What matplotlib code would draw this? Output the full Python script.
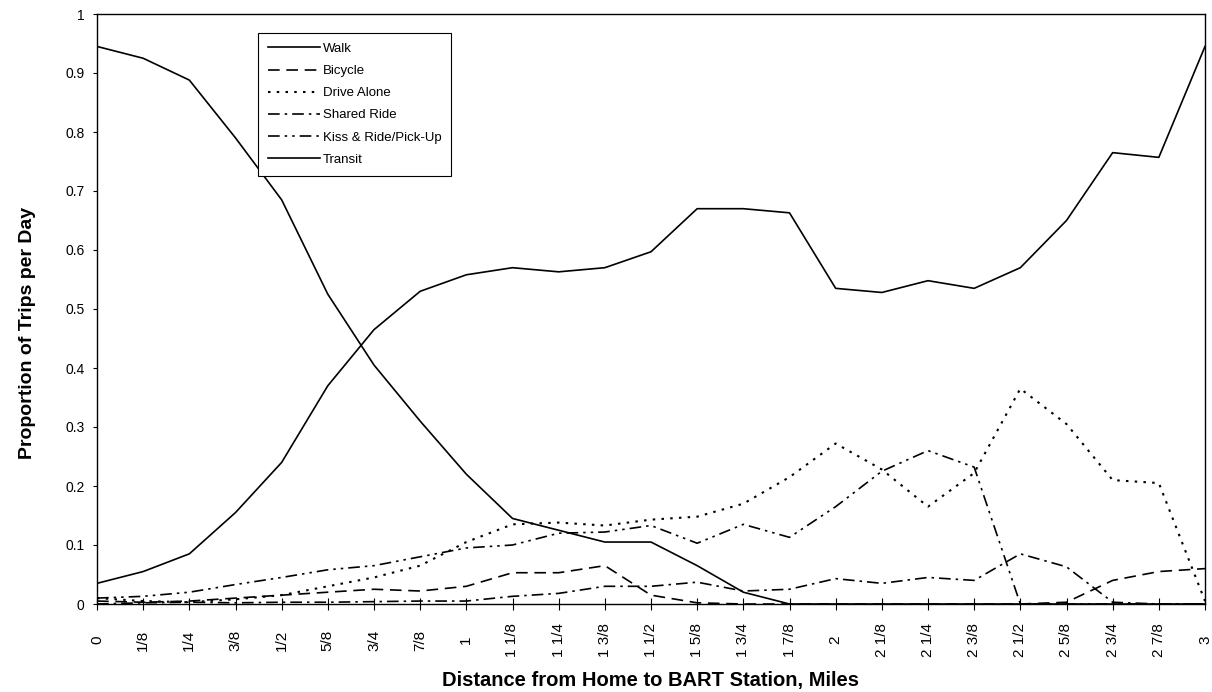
import numpy as np
import matplotlib
matplotlib.use("Agg")
import matplotlib.pyplot as plt

plt.rcParams['font.family'] = ['Liberation Sans', 'DejaVu Sans']

# distance categories (miles), 1/8 mile steps
dist_labels = ['0', '1/8', '1/4', '3/8', '1/2', '5/8', '3/4', '7/8',
               '1', '1 1/8', '1 1/4', '1 3/8', '1 1/2', '1 5/8', '1 3/4', '1 7/8',
               '2', '2 1/8', '2 1/4', '2 3/8', '2 1/2', '2 5/8', '2 3/4', '2 7/8', '3']

# proportion of trips per day for each mode
walk = [0.945, 0.925, 0.888, 0.79, 0.685, 0.525, 0.405, 0.31, 0.22, 0.145, 0.125, 0.105,
        0.105, 0.065, 0.02, 0.0, 0.0, 0.0, 0.0, 0.0, 0.0, 0.0, 0.0, 0.0, 0.0]
bicycle = [0.005, 0.003, 0.005, 0.01, 0.015, 0.02, 0.025, 0.022, 0.03, 0.053, 0.053, 0.065,
           0.015, 0.002, 0.0, 0.0, 0.0, 0.0, 0.0, 0.0, 0.0, 0.003, 0.04, 0.055, 0.06]
drive_alone = [0.01, 0.005, 0.003, 0.008, 0.015, 0.03, 0.045, 0.065, 0.105, 0.135, 0.138, 0.133,
               0.143, 0.148, 0.17, 0.215, 0.272, 0.228, 0.165, 0.222, 0.365, 0.305, 0.21, 0.205, 0.005]
shared_ride = [0.0, 0.002, 0.003, 0.002, 0.003, 0.003, 0.004, 0.005, 0.005, 0.013, 0.018, 0.03,
               0.03, 0.037, 0.022, 0.025, 0.043, 0.035, 0.045, 0.04, 0.085, 0.063, 0.003, 0.0, 0.0]
kiss_ride = [0.01, 0.013, 0.02, 0.033, 0.045, 0.058, 0.065, 0.08, 0.095, 0.1, 0.12, 0.122,
             0.133, 0.103, 0.135, 0.113, 0.165, 0.225, 0.26, 0.232, 0.0, 0.0, 0.0, 0.0, 0.0]
transit = [0.035, 0.055, 0.085, 0.155, 0.24, 0.37, 0.465, 0.53, 0.558, 0.57, 0.563, 0.57,
           0.597, 0.67, 0.67, 0.663, 0.535, 0.528, 0.548, 0.535, 0.57, 0.65, 0.765, 0.757, 0.945]

x = np.arange(len(dist_labels))

fig = plt.figure(figsize=(12.12, 6.92), dpi=100)
ax = fig.add_axes([97/1212, 88/692, 1108/1212, 590/692])

lw = 1.2
ax.plot(x, walk, color='black', lw=lw, ls='-', label='Walk')
ax.plot(x, bicycle, color='black', lw=lw, ls=(0, (7, 4)), label='Bicycle')
ax.plot(x, drive_alone, color='black', lw=lw + 0.3, ls=(0, (1.2, 3)), label='Drive Alone')
ax.plot(x, shared_ride, color='black', lw=lw, ls=(0, (7, 3, 1.5, 3)), label='Shared Ride')
ax.plot(x, kiss_ride, color='black', lw=lw, ls=(0, (7, 3, 1.5, 3, 1.5, 3)), label='Kiss & Ride/Pick-Up')
ax.plot(x, transit, color='black', lw=lw, ls='-', label='Transit')

ax.set_xlim(0, len(x) - 1)
ax.set_ylim(0, 1)
ax.set_yticks(np.arange(0, 1.01, 0.1))
ax.set_yticklabels(['0', '0.1', '0.2', '0.3', '0.4', '0.5', '0.6', '0.7', '0.8', '0.9', '1'])
ax.set_xticks(x)
ax.set_xticklabels(dist_labels, rotation=90, va='center', ha='center')

ax.tick_params(axis='y', direction='out', length=3, width=0.8, labelsize=10, pad=6)
ax.tick_params(axis='x', direction='inout', length=8, width=0.8, labelsize=11, pad=22)

for s in ax.spines.values():
    s.set_linewidth(1.0)
    s.set_color('black')

ax.set_xlabel('Distance from Home to BART Station, Miles', fontsize=14.5, fontweight='bold', labelpad=10)
ax.set_ylabel('Proportion of Trips per Day', fontsize=14, fontweight='bold')
ax.yaxis.set_label_coords(-0.055, 0.46)

leg = ax.legend(loc='upper left', bbox_to_anchor=(0.145, 0.968), borderaxespad=0,
                fancybox=False, framealpha=1, edgecolor='black', fontsize=9.5,
                handlelength=4.0, handletextpad=0.2, labelspacing=0.75, borderpad=0.75)
leg.get_frame().set_linewidth(0.8)

fig.savefig('out.png', dpi=100)
